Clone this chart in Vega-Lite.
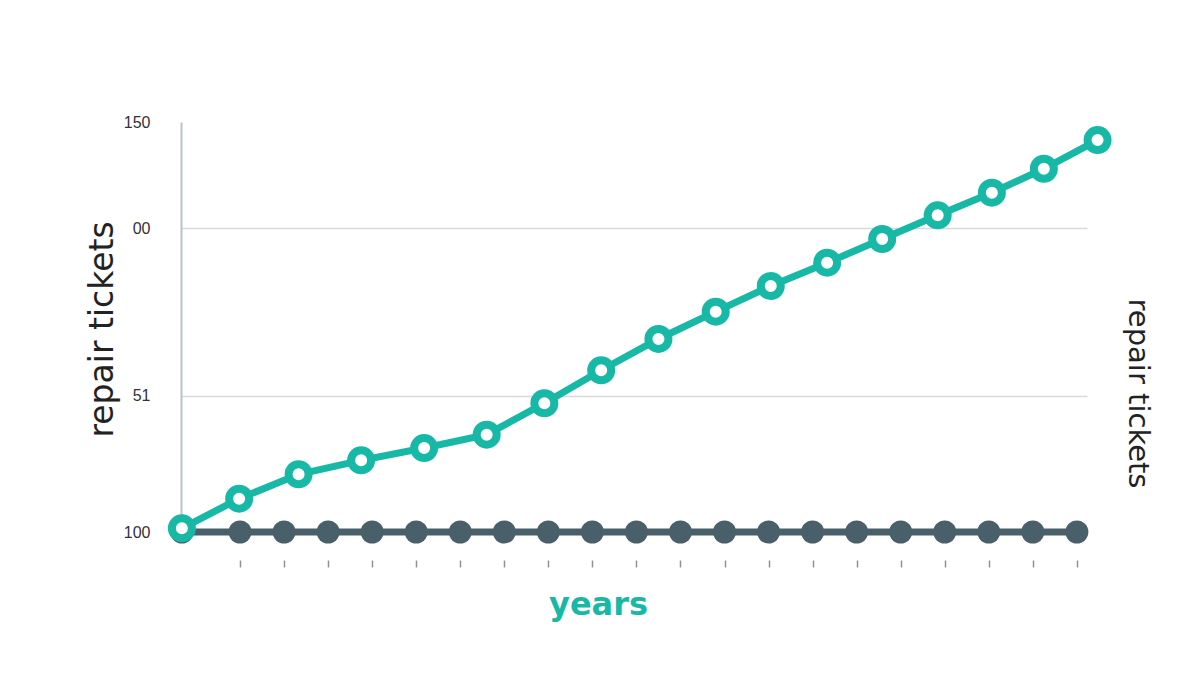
{
  "$schema": "https://vega.github.io/schema/vega-lite/v6.json",
  "width": 906,
  "height": 410,
  "autosize": {"type": "none"},
  "padding": {"left": 181, "top": 122, "right": 113, "bottom": 143},
  "background": "white",
  "config": {"view": {"stroke": null}, "font": "DejaVu Sans"},
  "datasets": {
    "teal": [
      {"year": -0.32, "tickets": 100.45},
      {"year": 0.98, "tickets": 104.06},
      {"year": 2.33, "tickets": 107.04},
      {"year": 3.75, "tickets": 108.74},
      {"year": 5.18, "tickets": 110.24},
      {"year": 6.6, "tickets": 111.87},
      {"year": 7.91, "tickets": 115.7},
      {"year": 9.2, "tickets": 119.72},
      {"year": 10.5, "tickets": 123.54},
      {"year": 11.8, "tickets": 126.87},
      {"year": 13.05, "tickets": 130.0},
      {"year": 14.33, "tickets": 132.84},
      {"year": 15.58, "tickets": 135.73},
      {"year": 16.84, "tickets": 138.62},
      {"year": 18.07, "tickets": 141.38},
      {"year": 19.25, "tickets": 144.3},
      {"year": 20.47, "tickets": 147.8}
    ],
    "flat": [
      {"year": -0.32, "tickets": 100},
      {"year": 1, "tickets": 100},
      {"year": 2, "tickets": 100},
      {"year": 3, "tickets": 100},
      {"year": 4, "tickets": 100},
      {"year": 5, "tickets": 100},
      {"year": 6, "tickets": 100},
      {"year": 7, "tickets": 100},
      {"year": 8, "tickets": 100},
      {"year": 9, "tickets": 100},
      {"year": 10, "tickets": 100},
      {"year": 11, "tickets": 100},
      {"year": 12, "tickets": 100},
      {"year": 13, "tickets": 100},
      {"year": 14, "tickets": 100},
      {"year": 15, "tickets": 100},
      {"year": 16, "tickets": 100},
      {"year": 17, "tickets": 100},
      {"year": 18, "tickets": 100},
      {"year": 19, "tickets": 100},
      {"year": 20, "tickets": 100}
    ]
  },
  "resolve": {"axis": {"y": "independent"}},
  "layer": [
    {
      "data": {"name": "flat"},
      "mark": {"type": "line", "color": "#49606a", "strokeWidth": 7},
      "encoding": {
        "x": {
          "field": "year", "type": "quantitative",
          "scale": {"domain": [-0.34, 20.23], "nice": false, "zero": false},
          "axis": {
            "values": [1,2,3,4,5,6,7,8,9,10,11,12,13,14,15,16,17,18,19,20],
            "labels": false, "domain": false, "grid": false,
            "ticks": true, "tickSize": 7, "tickColor": "#8a9499", "tickWidth": 1.5,
            "offset": 28,
            "title": "years", "titleColor": "#17b8a6", "titleFontSize": 32,
            "titleFontWeight": "bold", "titleFont": "DejaVu Sans",
            "titleX": 417, "titleY": 54, "titleBaseline": "alphabetic", "titleAlign": "center"
          }
        },
        "y": {
          "field": "tickets", "type": "quantitative",
          "scale": {"domain": [100, 150], "nice": false, "zero": false},
          "axis": {
            "values": [100, 116.59, 137.07, 150],
            "labelExpr": "datum.value == 150 ? '150' : datum.value == 100 ? '100' : datum.value < 120 ? '51' : '00'",
            "ticks": false,
            "domain": true, "domainColor": "#b9c3c7", "domainWidth": 2,
            "grid": true, "gridColor": "#d3dbe0", "gridWidth": 1.5,
            "gridOpacity": {"condition": {"test": "datum.value == 150 || datum.value == 100", "value": 0}, "value": 1},
            "labelFont": "Liberation Sans", "labelFontSize": 16, "labelColor": "#333333", "labelPadding": 31,
            "title": "repair tickets", "titleFont": "DejaVu Sans", "titleFontSize": 33,
            "titleFontWeight": "normal", "titleColor": "#222222",
            "titleAngle": 270, "titleX": -79, "titleY": 207, "titleAlign": "center", "titleBaseline": "middle"
          }
        }
      }
    },
    {
      "data": {"name": "flat"},
      "mark": {"type": "circle", "color": "#49606a", "size": 530, "opacity": 1},
      "encoding": {
        "x": {"field": "year", "type": "quantitative"},
        "y": {
          "field": "tickets", "type": "quantitative",
          "axis": {
            "orient": "right", "labels": false, "ticks": false, "domain": false, "grid": false,
            "title": "repair tickets", "titleFont": "DejaVu Sans", "titleFontSize": 29,
            "titleFontWeight": "normal", "titleColor": "#222222",
            "titleAngle": 90, "titleX": 50, "titleY": 271, "titleAlign": "center", "titleBaseline": "middle"
          }
        }
      }
    },
    {
      "data": {"name": "teal"},
      "mark": {"type": "line", "color": "#17b8a6", "strokeWidth": 7},
      "encoding": {
        "x": {"field": "year", "type": "quantitative"},
        "y": {"field": "tickets", "type": "quantitative", "axis": null}
      }
    },
    {
      "data": {"name": "teal"},
      "mark": {"type": "point", "shape": "circle", "filled": true, "fill": "white", "stroke": "#17b8a6", "strokeWidth": 8, "size": 400, "opacity": 1},
      "encoding": {
        "x": {"field": "year", "type": "quantitative"},
        "y": {"field": "tickets", "type": "quantitative", "axis": null}
      }
    }
  ]
}
